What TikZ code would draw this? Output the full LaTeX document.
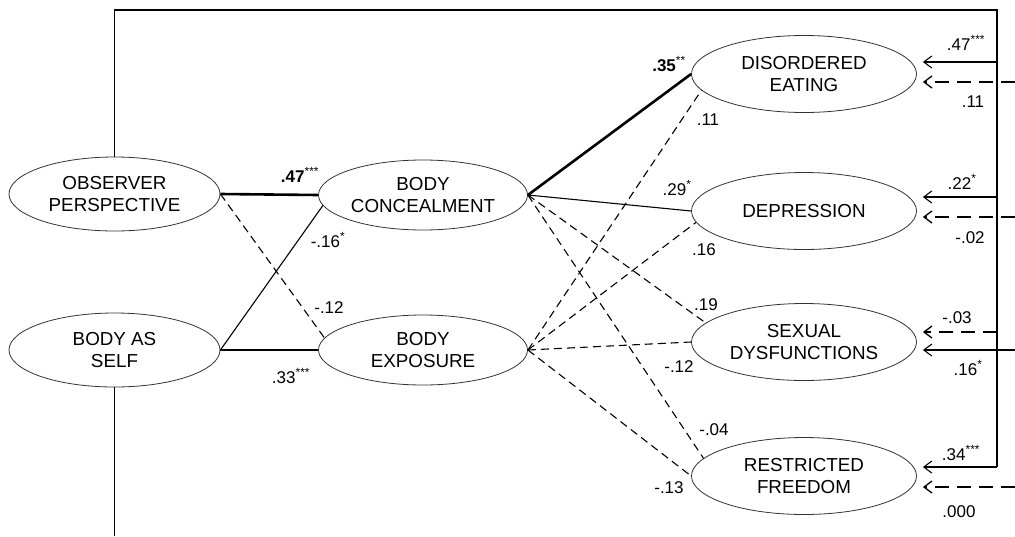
\documentclass[tikz,border=0pt]{standalone}
\usepackage{fontspec}
\setmainfont{Liberation Sans}
\usetikzlibrary{shapes.geometric,arrows.meta}
\newcommand\nodefont{\fontsize{18.8}{22.5}\selectfont}
\newcommand\lblfont{\fontsize{17}{19}\selectfont}
\newcommand\mystar[1]{\textsuperscript{#1}}
\tikzset{
  lat/.style={ellipse, draw=black!80, line width=0.8pt, minimum width=211pt, minimum height=74pt,
              inner sep=0pt, align=center, font=\nodefont},
  outc/.style={lat, minimum width=225pt, minimum height=77pt},
  lbl/.style={inner sep=0pt, font=\lblfont},
  pth/.style={line width=1.1pt},
  thk/.style={line width=2.6pt},
  dsh/.style={line width=1.1pt, dash pattern=on 8pt off 5pt},
  ldsh/.style={line width=1.3pt, dash pattern=on 14pt off 8pt},
  arr/.style={-{Straight Barb[length=8pt,width=12pt]}, shorten >=6pt},
}
\begin{document}
\begin{tikzpicture}[x=1pt,y=-1pt]
\useasboundingbox (0,0) rectangle (1015,536);
% latent variables
\node[lat]  (obs)  at (114.5,194) {OBSERVER\\PERSPECTIVE};
\node[lat]  (self) at (114.5,350) {BODY AS\\SELF};
\node[lat, minimum width=209pt, minimum height=70pt] (conc) at (423,195) {BODY\\CONCEALMENT};
\node[lat, minimum width=209pt, minimum height=70pt] (expo) at (423,350) {BODY\\EXPOSURE};
\node[outc] (de)  at (804,74)  {DISORDERED\\EATING};
\node[outc] (dep) at (804,211) {DEPRESSION};
\node[outc] (sd)  at (804,342) {SEXUAL\\DYSFUNCTIONS};
\node[outc] (rf)  at (804,476) {RESTRICTED\\FREEDOM};

% frame of covariate paths
\coordinate (tl) at (114.5,10);
\coordinate (tr) at (997,10);
\coordinate (vb) at (997,467);
\coordinate (bb) at (114.5,536);
\draw[pth] (obs.north) -- (tl) -- (tr) -- (vb);
\draw[pth] (self.south) -- (bb);

% solid arrows from the vertical line
\coordinate (s1) at (997,62);
\coordinate (s2) at (997,197);
\coordinate (s3) at (997,332);
\coordinate (s4) at (997,467);
\draw[pth,arr] (s1) -- (de.east |- s1);
\draw[pth,arr] (s2) -- (dep.east |- s2);
\draw[ldsh,arr] (s3) -- (sd.east |- s3);
\draw[pth,arr] (s4) -- (rf.east |- s4);
% arrows from the right edge
\coordinate (e1) at (1015,82);
\coordinate (e2) at (1015,217);
\coordinate (e3) at (1015,350);
\coordinate (e4) at (1015,487);
\draw[ldsh,arr] (e1) -- (de.east |- e1);
\draw[ldsh,arr] (e2) -- (dep.east |- e2);
\draw[pth,arr] (e3) -- (sd.east |- e3);
\draw[ldsh,arr] (e4) -- (rf.east |- e4);

% left paths
\draw[thk] (obs.east) -- (conc.west);
\draw[dsh] (obs.east) -- (expo.173);
\draw[pth] (self.east) -- (conc.186);
\draw[pth] (self.east) -- (expo.west);

% mediator to outcome paths
\draw[thk] (conc.east) -- (de.west);
\draw[pth] (conc.east) -- (dep.west);
\draw[dsh] (conc.east) -- (sd.169);
\draw[dsh] (conc.east) -- (rf.170);
\draw[dsh] (expo.east) -- (de.189);
\draw[dsh] (expo.east) -- (dep.186);
\draw[dsh] (expo.east) -- (sd.west);
\draw[dsh] (expo.east) -- (rf.west);

% labels, left
\node[lbl] (l1) at (300,175) {\textbf{.47}\mystar{***}};
\node[lbl] (l2) at (328,240) {-.16\mystar{*}};
\node[lbl] (l3) at (329,308) {-.12};
\node[lbl] (l4) at (291,376) {.33\mystar{***}};
% labels, middle
\node[lbl] (m1) at (669,64)  {\textbf{.35}\mystar{**}};
\node[lbl] (m2) at (708,120) {.11};
\node[lbl] (m3) at (677,188) {.29\mystar{*}};
\node[lbl] (m4) at (704,250) {.16};
\node[lbl] (m5) at (706,305) {.19};
\node[lbl] (m6) at (679,367) {-.12};
\node[lbl] (m7) at (714,430) {-.04};
\node[lbl] (m8) at (669,488) {-.13};
% labels, right
\node[lbl] (r1) at (966,43)  {.47\mystar{***}};
\node[lbl] (r2) at (973,102) {.11};
\node[lbl] (r3) at (962,182) {.22\mystar{*}};
\node[lbl] (r4) at (970,238) {-.02};
\node[lbl] (r5) at (957,318) {-.03};
\node[lbl] (r6) at (968,368) {.16\mystar{*}};
\node[lbl] (r7) at (961,453) {.34\mystar{***}};
\node[lbl] (r8) at (959,512) {.000};
\end{tikzpicture}
\end{document}
